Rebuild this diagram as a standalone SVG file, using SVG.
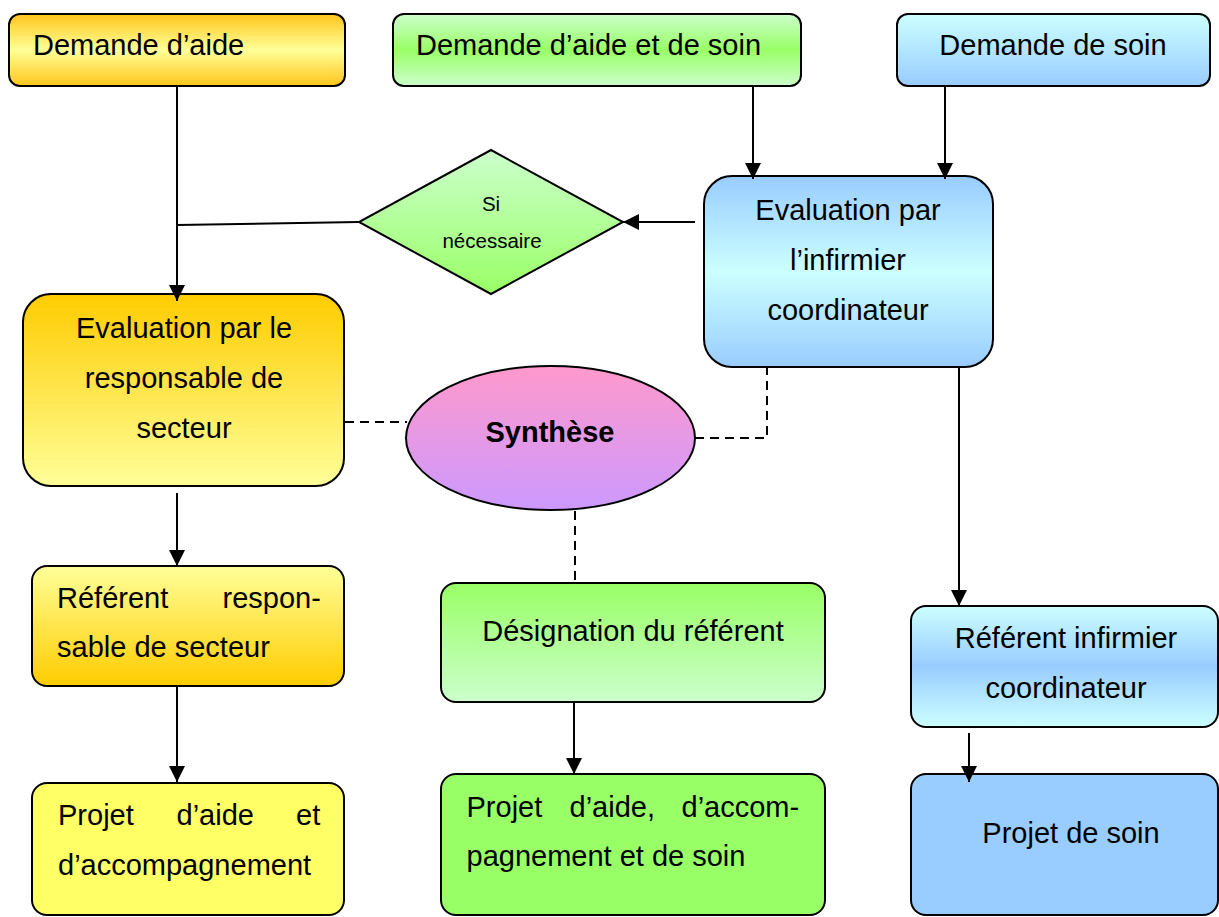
<svg xmlns="http://www.w3.org/2000/svg" width="1219" height="917" viewBox="0 0 1219 917">
<style>
.n{stroke:#000;stroke-width:2}
.t{font-family:"Liberation Sans",Arial,sans-serif;font-size:29px;fill:#000}
.c{text-anchor:middle}
.s{font-size:20.5px}
.b{font-weight:bold}
.l{fill:none;stroke:#000;stroke-width:2}
.d{fill:none;stroke:#000;stroke-width:2;stroke-dasharray:9 6}
</style>
<defs>
<marker id="ah" viewBox="0 0 16 16" refX="16" refY="8" markerWidth="16" markerHeight="16" markerUnits="userSpaceOnUse" orient="auto">
<path d="M0,0 L16,8 L0,16 Z" fill="#000"/>
</marker>
<linearGradient id="gOrg3" x1="0" y1="0" x2="0" y2="1"><stop offset="0" stop-color="#FFC61A"/><stop offset="0.5" stop-color="#FFFF99"/><stop offset="1" stop-color="#FFC61A"/></linearGradient>
<linearGradient id="gGrn3" x1="0" y1="0" x2="0" y2="1"><stop offset="0" stop-color="#CCFFCC"/><stop offset="0.5" stop-color="#99FF66"/><stop offset="1" stop-color="#CCFFCC"/></linearGradient>
<linearGradient id="gBlu2" x1="0" y1="0" x2="0" y2="1"><stop offset="0" stop-color="#CCFFFF"/><stop offset="1" stop-color="#99CCFF"/></linearGradient>
<linearGradient id="gDia" x1="0" y1="0" x2="0" y2="1"><stop offset="0" stop-color="#CCFFCC"/><stop offset="1" stop-color="#99FF66"/></linearGradient>
<linearGradient id="gOrgDn" x1="0" y1="0" x2="0" y2="1"><stop offset="0" stop-color="#FFCC00"/><stop offset="1" stop-color="#FFFF99"/></linearGradient>
<linearGradient id="gOrgUp" x1="0" y1="0" x2="0" y2="1"><stop offset="0" stop-color="#FFFF99"/><stop offset="1" stop-color="#FFCC00"/></linearGradient>
<linearGradient id="gBluMid" x1="0" y1="0" x2="0" y2="1"><stop offset="0" stop-color="#99CCFF"/><stop offset="0.5" stop-color="#CCFFFF"/><stop offset="1" stop-color="#99CCFF"/></linearGradient>
<linearGradient id="gCyaMid" x1="0" y1="0" x2="0" y2="1"><stop offset="0" stop-color="#CCFFFF"/><stop offset="0.5" stop-color="#99CCFF"/><stop offset="1" stop-color="#CCFFFF"/></linearGradient>
<linearGradient id="gPink" x1="0" y1="0" x2="0" y2="1"><stop offset="0" stop-color="#FF99CC"/><stop offset="1" stop-color="#CC99FF"/></linearGradient>
<linearGradient id="gGrnDn" x1="0" y1="0" x2="0" y2="1"><stop offset="0" stop-color="#99FF66"/><stop offset="1" stop-color="#CCFFCC"/></linearGradient>
</defs>
<rect width="1219" height="917" fill="#fff"/>

<g id="demande-aide">
<rect class="n" x="9" y="14" width="336" height="72" rx="11" fill="url(#gOrg3)"/>
<text class="t" x="33" y="55">Demande d’aide</text>
</g>
<g id="demande-aide-soin">
<rect class="n" x="393" y="14" width="408" height="72" rx="11" fill="url(#gGrn3)"/>
<text class="t" x="416" y="55">Demande d’aide et de soin</text>
</g>
<g id="demande-soin">
<rect class="n" x="897" y="14" width="313" height="72" rx="11" fill="url(#gBlu2)"/>
<text class="t c" x="1053" y="55">Demande de soin</text>
</g>

<g id="si-necessaire">
<polygon class="n" points="491,150 623,222 491,294 359,222" fill="url(#gDia)"/>
<text class="t s c" x="491" y="211">Si</text>
<text class="t s c" x="492" y="248">nécessaire</text>
</g>

<g id="eval-infirmier">
<rect class="n" x="704" y="176" width="289" height="191" rx="28" fill="url(#gBluMid)"/>
<text class="t c" x="848" y="220">Evaluation par</text>
<text class="t c" x="848" y="270">l’infirmier</text>
<text class="t c" x="848" y="320">coordinateur</text>
</g>

<g id="eval-responsable">
<rect class="n" x="23" y="294" width="321" height="192" rx="28" fill="url(#gOrgDn)"/>
<text class="t c" x="184" y="338">Evaluation par le</text>
<text class="t c" x="184" y="388">responsable de</text>
<text class="t c" x="184" y="438">secteur</text>
</g>

<g id="synthese">
<ellipse class="n" cx="550.5" cy="438" rx="144.5" ry="72" fill="url(#gPink)"/>
<text class="t b c" x="550" y="442">Synthèse</text>
</g>

<g id="referent-responsable">
<rect class="n" x="32" y="566" width="312" height="120" rx="15" fill="url(#gOrgUp)"/>
<text class="t" y="608"><tspan x="57">Référent</tspan><tspan x="222.5">respon-</tspan></text>
<text class="t" x="57" y="657">sable de secteur</text>
</g>

<g id="designation">
<rect class="n" x="441" y="583" width="384" height="119" rx="15" fill="url(#gGrnDn)"/>
<text class="t c" x="633" y="641">Désignation du référent</text>
</g>

<g id="referent-infirmier">
<rect class="n" x="911" y="606" width="307" height="121" rx="15" fill="url(#gCyaMid)"/>
<text class="t c" x="1066" y="648">Référent infirmier</text>
<text class="t c" x="1066" y="698">coordinateur</text>
</g>

<g id="projet-aide">
<rect class="n" x="32" y="783" width="312" height="132" rx="15" fill="#FFFF66"/>
<text class="t" y="825"><tspan x="58">Projet</tspan><tspan x="176.5">d’aide</tspan><tspan x="296">et</tspan></text>
<text class="t" x="58" y="875">d’accompagnement</text>
</g>

<g id="projet-aide-soin">
<rect class="n" x="441" y="774" width="384" height="141" rx="15" fill="#99FF66"/>
<text class="t" y="817"><tspan x="466.5">Projet</tspan><tspan x="569.5">d’aide,</tspan><tspan x="681.5">d’accom-</tspan></text>
<text class="t" x="466.5" y="866">pagnement et de soin</text>
</g>

<g id="projet-soin">
<rect class="n" x="911" y="774" width="307" height="141" rx="15" fill="#99CCFF"/>
<text class="t c" x="1071" y="843">Projet de soin</text>
</g>

<g id="connectors">
<line class="l" x1="177" y1="87" x2="177" y2="301" marker-end="url(#ah)"/>
<line class="l" x1="177" y1="225" x2="359" y2="222"/>
<line class="l" x1="695" y1="222" x2="623" y2="222" marker-end="url(#ah)"/>
<line class="l" x1="753" y1="87" x2="753" y2="179" marker-end="url(#ah)"/>
<line class="l" x1="945" y1="87" x2="945" y2="179" marker-end="url(#ah)"/>
<line class="d" x1="345" y1="422" x2="407" y2="422"/>
<polyline class="d" points="695,438 767,438 767,368"/>
<line class="d" x1="575" y1="511" x2="575" y2="582"/>
<line class="l" x1="177" y1="493" x2="177" y2="566" marker-end="url(#ah)"/>
<line class="l" x1="177" y1="687" x2="177" y2="782" marker-end="url(#ah)"/>
<line class="l" x1="574" y1="703" x2="574" y2="774" marker-end="url(#ah)"/>
<line class="l" x1="959" y1="368" x2="959" y2="606" marker-end="url(#ah)"/>
<line class="l" x1="969" y1="733" x2="969" y2="782" marker-end="url(#ah)"/>
</g>
</svg>
